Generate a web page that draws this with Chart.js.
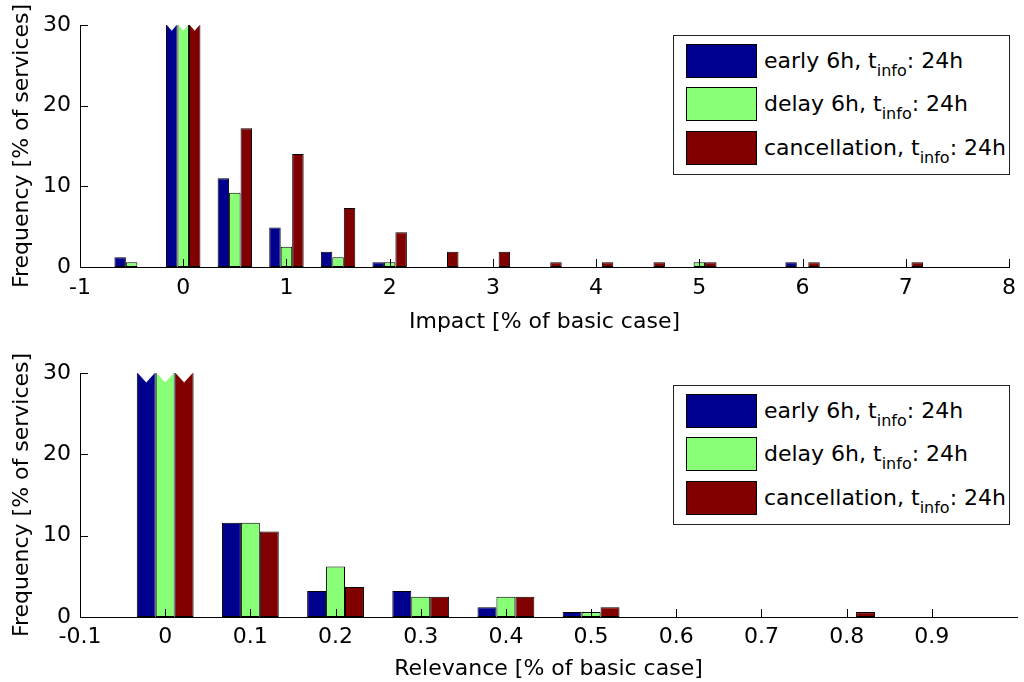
<!DOCTYPE html>
<html>
<head>
<meta charset="utf-8">
<script src="https://cdn.jsdelivr.net/npm/chart.js@4.4.1/dist/chart.umd.min.js"></script>
<style>
  body { margin: 0; background: #fff; width: 1024px; height: 682px; position: relative; overflow: hidden;
         font-family: "DejaVu Sans", sans-serif; color: #000; }
  canvas { position: absolute; left: 0; }
  #impactChart { top: 0; }
  #relevanceChart { top: 340px; }
  .legend { position: absolute; left: 673px; width: 335px; height: 138px; border: 1px solid #222; background: #fff; font-size: 22px; }
  .row { position: absolute; left: 12px; height: 34px; }
  .sw { position: absolute; left: 0; top: 0; width: 69px; height: 32px; border: 1px solid #000; }
  .lab { position: absolute; left: 78px; top: 0; line-height: 34px; white-space: nowrap; }
  .lab sub { font-size: 16px; vertical-align: -8px; line-height: 0; }
</style>
</head>
<body>
<canvas id="impactChart" width="1024" height="340"></canvas>
<canvas id="relevanceChart" width="1024" height="342"></canvas>

<div class="legend" style="top:35px">
  <div class="row" style="top:8px"><div class="sw" style="background:#00008F"></div><div class="lab">early 6h, t<sub>info</sub>: 24h</div></div>
  <div class="row" style="top:51px"><div class="sw" style="background:#88FF77"></div><div class="lab">delay 6h, t<sub>info</sub>: 24h</div></div>
  <div class="row" style="top:95px"><div class="sw" style="background:#800000"></div><div class="lab">cancellation, t<sub>info</sub>: 24h</div></div>
</div>
<div class="legend" style="top:385px">
  <div class="row" style="top:8px"><div class="sw" style="background:#00008F"></div><div class="lab">early 6h, t<sub>info</sub>: 24h</div></div>
  <div class="row" style="top:51px"><div class="sw" style="background:#88FF77"></div><div class="lab">delay 6h, t<sub>info</sub>: 24h</div></div>
  <div class="row" style="top:95px"><div class="sw" style="background:#800000"></div><div class="lab">cancellation, t<sub>info</sub>: 24h</div></div>
</div>

<script>
// impact histogram (upper plot), bins of 0.5
const impactBins = [-0.5, 0, 0.5, 1, 1.5, 2, 2.5, 3, 3.5, 4, 4.5, 5, 5.5, 6, 6.5, 7];
const impactEarly = [1.2, 79.8, 11.0, 4.9, 1.9, 0.6, 0, 0, 0, 0, 0, 0, 0, 0.6, 0, 0];
const impactDelay = [0.6, 85.3, 9.2, 2.5, 1.2, 0.6, 0, 0, 0, 0, 0, 0.6, 0, 0, 0, 0];
const impactCancel = [0, 49.8, 17.2, 14.0, 7.3, 4.3, 1.9, 1.9, 0.6, 0.6, 0.6, 0.6, 0, 0.6, 0, 0.6];

// relevance histogram (lower plot), bins of 0.1
const relevanceBins = [0, 0.1, 0.2, 0.3, 0.4, 0.5, 0.6, 0.7, 0.8];
const relevanceEarly = [80.4, 11.6, 3.2, 3.2, 1.2, 0.6, 0, 0, 0];
const relevanceDelay = [76.6, 11.6, 6.2, 2.5, 2.5, 0.6, 0, 0, 0];
const relevanceCancel = [79.0, 10.5, 3.7, 2.5, 2.5, 1.2, 0, 0, 0.6];

const seriesNames = ["early 6h, t_info: 24h", "delay 6h, t_info: 24h", "cancellation, t_info: 24h"];
const seriesColors = ["#00008F", "#88FF77", "#800000"];
const yTicks = [0, 10, 20, 30];

Chart.defaults.font.family = "DejaVu Sans";
Chart.defaults.font.size = 22;
Chart.defaults.color = "#000";

// MATLAB style: ticks pointing inwards + broken tops for bars above the y limit
const axisMarks = {
  id: "axisMarks",
  afterDatasetsDraw(chart) {
    const ctx = chart.ctx, ys = chart.scales.y, top = chart.chartArea.top;
    ctx.save();
    ctx.fillStyle = "#fff";
    chart.data.datasets.forEach((ds, i) => {
      chart.getDatasetMeta(i).data.forEach((bar, j) => {
        if (ds.data[j].y <= ys.max) return;
        const { x, width } = bar.getProps(["x", "width"], true);
        ctx.beginPath();
        ctx.moveTo(x - width / 2, top - 1);
        ctx.lineTo(x, top + width / 2);
        ctx.lineTo(x + width / 2, top - 1);
        ctx.closePath();
        ctx.fill();
      });
    });
    ctx.restore();
  },
  afterDraw(chart) {
    const ctx = chart.ctx, a = chart.chartArea, xs = chart.scales.x, ys = chart.scales.y;
    ctx.save();
    ctx.strokeStyle = "#000";
    ctx.lineWidth = 1;
    ctx.beginPath();
    xs.ticks.forEach(t => {
      const px = Math.round(xs.getPixelForValue(t.value)) + 0.5;
      ctx.moveTo(px, a.bottom);
      ctx.lineTo(px, a.bottom - 8);
    });
    ys.ticks.forEach(t => {
      const py = Math.round(ys.getPixelForValue(t.value)) + 0.5;
      ctx.moveTo(a.left, py);
      ctx.lineTo(a.left + 8, py);
    });
    ctx.stroke();
    ctx.restore();
  }
};

function makeChart(id, bins, values, xOpt) {
  const datasets = values.map((vals, k) => ({
    label: seriesNames[k],
    data: bins.map((b, i) => ({ x: b, y: vals[i] })),
    backgroundColor: seriesColors[k],
    borderColor: "#000",
    borderWidth: 1,
    borderSkipped: false,
    barPercentage: 1,
    categoryPercentage: 0.667,
    clip: 0
  }));
  return new Chart(document.getElementById(id), {
    type: "bar",
    data: { datasets },
    options: {
      responsive: false,
      animation: false,
      layout: { padding: { top: xOpt.padTop, right: 7, bottom: 0, left: 0 } },
      plugins: { legend: { display: false }, tooltip: { enabled: false } },
      scales: {
        x: {
          type: "linear",
          min: xOpt.min,
          max: xOpt.max,
          offset: false,
          grid: { display: false, drawTicks: false },
          border: { display: true, color: "#000", width: 1 },
          ticks: { stepSize: xOpt.step, padding: xOpt.tickPad, autoSkip: false, maxRotation: 0 },
          afterBuildTicks: s => { s.ticks = s.ticks.filter(t => t.value <= xOpt.lastTick + 1e-9); },
          title: { display: true, text: xOpt.title, padding: { top: 0, bottom: xOpt.titlePad } },
          afterFit: s => { s.height = xOpt.height; }
        },
        y: {
          min: 0,
          max: 30,
          grid: { display: false, drawTicks: false },
          border: { display: true, color: "#000", width: 1 },
          ticks: { stepSize: 10, padding: 9 },
          afterBuildTicks: s => { s.ticks = yTicks.map(v => ({ value: v })); },
          title: { display: true, text: "Frequency [% of services]", padding: { top: 9, bottom: 0 } },
          afterFit: s => { s.width = 80; }
        }
      }
    },
    plugins: [axisMarks]
  });
}

makeChart("impactChart", impactBins, [impactEarly, impactDelay, impactCancel], {
  min: -1, max: 8, step: 1, lastTick: 8, title: "Impact [% of basic case]",
  padTop: 25, height: 73, tickPad: 8, titlePad: 5
});

makeChart("relevanceChart", relevanceBins, [relevanceEarly, relevanceDelay, relevanceCancel], {
  min: -0.1, max: 1.0, step: 0.1, lastTick: 0.9, title: "Relevance [% of basic case]",
  padTop: 33, height: 65, tickPad: 7, titlePad: 0
});
</script>
</body>
</html>
